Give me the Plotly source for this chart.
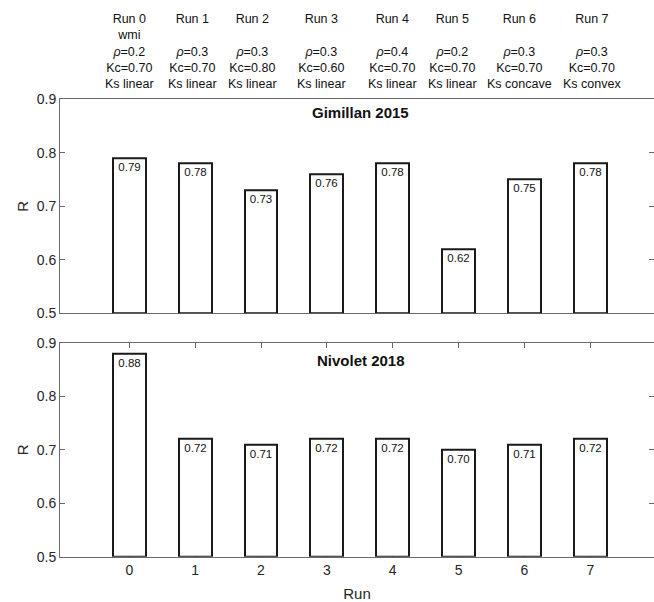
import plotly.graph_objects as go
from plotly.subplots import make_subplots

runs = [0, 1, 2, 3, 4, 5, 6, 7]
r_gimillan_2015 = [0.79, 0.78, 0.73, 0.76, 0.78, 0.62, 0.75, 0.78]
r_nivolet_2018 = [0.88, 0.72, 0.71, 0.72, 0.72, 0.70, 0.71, 0.72]
panel_titles = ["Gimillan 2015", "Nivolet 2018"]
run_labels = ["Run 0", "Run 1", "Run 2", "Run 3", "Run 4", "Run 5", "Run 6", "Run 7"]
extra_labels = ["wmi", "", "", "", "", "", "", ""]
rho_labels = ["0.2", "0.3", "0.3", "0.3", "0.4", "0.2", "0.3", "0.3"]
kc_labels = ["0.70", "0.70", "0.80", "0.60", "0.70", "0.70", "0.70", "0.70"]
ks_labels = ["linear", "linear", "linear", "linear", "linear", "linear", "concave", "convex"]
y_ticks = [0.5, 0.6, 0.7, 0.8, 0.9]

W, H = 654, 602
FONT = "Liberation Sans, Arial, Helvetica, sans-serif"
BASE = 0.5
AXCOL = "#6a6a6a"
TXT = "#262626"

fig = make_subplots(rows=2, cols=1, shared_xaxes=False, vertical_spacing=0.05)

for i, vals in enumerate([r_gimillan_2015, r_nivolet_2018]):
    fig.add_trace(go.Bar(
        x=runs, y=[v - BASE for v in vals], base=BASE,
        width=0.5,
        marker=dict(color="white", line=dict(color="#1a1a1a", width=2)),
        text=[f"{v:.2f}" for v in vals],
        textposition="inside", insidetextanchor="end", textangle=0,
        constraintext="none",
        textfont=dict(family=FONT, size=11.5, color="#111"),
        hovertemplate="Run %{x}<br>R=%{text}<extra></extra>",
        showlegend=False,
    ), row=i + 1, col=1)

x_dom = [60 / W, 1.0]
x_rng = [-1.052, 7.967]
top_dom = [1 - 313.3 / H, 1 - 99.2 / H]
bot_dom = [1 - 556.7 / H, 1 - 342.7 / H]

common_y = dict(range=[0.5, 0.9], tickvals=y_ticks, tickformat=".1f",
                ticks="inside", ticklen=5, tickcolor=AXCOL, tickwidth=1,
                showline=True, linecolor=AXCOL, linewidth=1, mirror="ticks",
                showgrid=False, zeroline=False, automargin=False,
                tickfont=dict(family=FONT, size=14, color=TXT),
                title=dict(text="R", font=dict(family=FONT, size=15, color=TXT), standoff=4))

fig.update_layout(
    width=W, height=H,
    margin=dict(l=0, r=0, t=0, b=0),
    paper_bgcolor="white", plot_bgcolor="white",
    font=dict(family=FONT, color=TXT),
    bargap=0,
    xaxis=dict(domain=x_dom, range=x_rng, tickvals=runs, showticklabels=False,
               ticks="", showline=True, linecolor=AXCOL, linewidth=1, mirror=True,
               showgrid=False, zeroline=False, automargin=False, layer="below traces"),
    yaxis=dict(domain=top_dom, **common_y),
    xaxis2=dict(domain=x_dom, range=x_rng, tickvals=runs,
                ticks="inside", ticklen=5, tickcolor=AXCOL, tickwidth=1,
                showline=True, linecolor=AXCOL, linewidth=1, mirror="ticks",
                showgrid=False, zeroline=False, automargin=False, layer="below traces",
                tickfont=dict(family=FONT, size=14, color=TXT),
                title=dict(text="Run", font=dict(family=FONT, size=15, color=TXT), standoff=11)),
    yaxis2=dict(domain=bot_dom, **common_y),
)

# panel titles
for title, ypix in zip(panel_titles, [112.7, 360.7]):
    fig.add_annotation(text=f"<b>{title}</b>", xref="paper", yref="paper",
                       x=360.5 / W, y=1 - ypix / H, xanchor="center", yanchor="middle",
                       showarrow=False, font=dict(family=FONT, size=15, color="#111"))

# column headers
col_px = [129.5, 192, 253, 321.5, 393, 453, 519, 591.5]
for k in range(len(runs)):
    lines = [run_labels[k], extra_labels[k] if extra_labels[k] else " ",
             f"<i>ρ</i>={rho_labels[k]}", f"Kc={kc_labels[k]}", f"Ks {ks_labels[k]}"]
    fig.add_annotation(text="<br>".join(lines), xref="paper", yref="paper",
                       x=col_px[k] / W, y=1 - 51.5 / H, xanchor="center", yanchor="middle",
                       align="center", showarrow=False,
                       font=dict(family=FONT, size=12.5, color="#111"))

fig.write_html("out.html", config={"displayModeBar": False},
               post_script="document.body.style.margin='0';document.body.style.overflow='hidden';")
